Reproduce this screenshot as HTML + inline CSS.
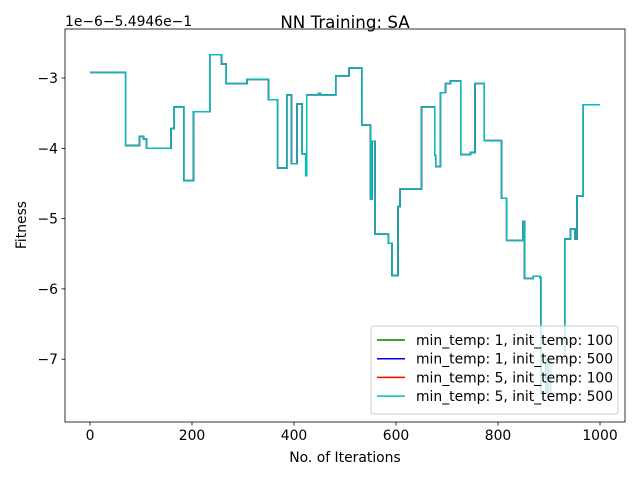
<!DOCTYPE html>
<html><head><meta charset="utf-8"><style>
body{margin:0;background:#fff;font-family:"Liberation Sans","DejaVu Sans",sans-serif}
svg text{font-family:"DejaVu Sans","Liberation Sans",sans-serif}
</style></head><body>
<svg id="chart" width="640" height="480" viewBox="0 0 640 480" xmlns="http://www.w3.org/2000/svg">
<rect width="640" height="480" fill="#fff"/>
<g id="plot"></g>
</svg>
<script>
const stepIters = [0,70,97,105,111,159,165,184,203,235,258,267,308,350,368,386,395,406,416,423,425,448,452,482,508,533,550,553,559,585,592,604,608,650,676,678,687,697,707,727,746,755,773,807,817,849,852,869,882,884,894,898,903,931,942,951,955,967,1000];
const stepVals = [-2.92,-3.96,-3.83,-3.87,-4.0,-3.72,-3.41,-4.46,-3.48,-2.67,-2.80,-3.08,-3.02,-3.31,-4.28,-3.24,-4.22,-3.37,-4.08,-4.39,-3.24,-3.22,-3.24,-2.97,-2.86,-3.67,-4.72,-3.9,-5.22,-5.35,-5.81,-4.83,-4.58,-3.41,-4.1,-4.26,-3.21,-3.08,-3.04,-4.09,-4.06,-3.08,-3.89,-4.71,-5.31,-5.04,-5.85,-5.82,-5.84,-7.47,-7.0,-7.5,-7.0,-5.29,-5.15,-5.29,-4.68,-3.38,-3.38];
const seriesNames = ["min_temp: 1, init_temp: 100","min_temp: 1, init_temp: 500","min_temp: 5, init_temp: 100","min_temp: 5, init_temp: 500"];
const seriesColors = ["#008000","#0000ff","#ff0000","#00bfbf"];
const xTicks = [0,200,400,600,800,1000];
const yTicks = [-3,-4,-5,-6,-7];
const yTickLabels = ["−3","−4","−5","−6","−7"];

const L=65,R=625,T=29,B=422;
const xMin=-49,xMax=1049,yMin=-7.893,yMax=-2.303;
const X=v=>L+(v-xMin)/(xMax-xMin)*(R-L);
const Y=v=>B-(v-yMin)/(yMax-yMin)*(B-T);
const NS="http://www.w3.org/2000/svg";
const g=document.getElementById('plot');
function mk(t,a,p){const e=document.createElementNS(NS,t);for(const k in a)e.setAttribute(k,a[k]);(p||g).appendChild(e);return e;}

let d="";
for(let i=0;i<stepIters.length;i++){
  const x=X(stepIters[i]),y=Y(stepVals[i]);
  if(i===0)d+="M"+x+","+y;else d+=" H"+x+" V"+y;
}
seriesNames.forEach((n,i)=>{
  const p=mk('path',{d:d,fill:'none',stroke:seriesColors[i],'stroke-width':1.5,'stroke-linejoin':'miter'});
  
  
});

const frame=mk('rect',{x:L,y:T,width:R-L,height:B-T,fill:'none',stroke:'#000','stroke-width':0.8});



xTicks.forEach(v=>{
  const x=X(v);
  mk('line',{x1:x,x2:x,y1:B,y2:B+3.5,stroke:'#000','stroke-width':0.8});
  const t=mk('text',{x:x,y:B+18,'font-size':13.9,'text-anchor':'middle',fill:'#000'});
  t.textContent=v;
  
  
});
yTicks.forEach((v,i)=>{
  const y=Y(v);
  mk('line',{x1:L-3.5,x2:L,y1:y,y2:y,stroke:'#000','stroke-width':0.8});
  const t=mk('text',{x:L-7,y:y+5,'font-size':13.9,'text-anchor':'end',fill:'#000'});
  t.textContent=yTickLabels[i];
  
  
});

const off=mk('text',{x:L,y:T-3,'font-size':13.9,fill:'#000'});
off.textContent="1e−6−5.4946e−1";



const title=mk('text',{x:345,y:28,'font-size':16.7,'text-anchor':'middle',fill:'#000'});
title.textContent="NN Training: SA";



const xl=mk('text',{x:345,y:462,'font-size':13.9,'text-anchor':'middle',fill:'#000'});
xl.textContent="No. of Iterations";



const yl=mk('text',{x:26,y:225,'font-size':13.9,'text-anchor':'middle',fill:'#000',transform:'rotate(-90 26 225)'});
yl.textContent="Fitness";



const lg=mk('g',{});


mk('rect',{x:371,y:326,width:247,height:88,rx:2,fill:'#fff','fill-opacity':0.8,stroke:'#ccc','stroke-width':1},lg);
seriesNames.forEach((n,i)=>{
  const y=340+i*18.7;
  const e=mk('g',{},lg);
  
  
  mk('line',{x1:377,x2:405,y1:y,y2:y,stroke:seriesColors[i],'stroke-width':1.5},e);
  const t=mk('text',{x:416,y:y+5,'font-size':13.9,fill:'#000'},e);
  t.textContent=n;
});
</script>
</body></html>
